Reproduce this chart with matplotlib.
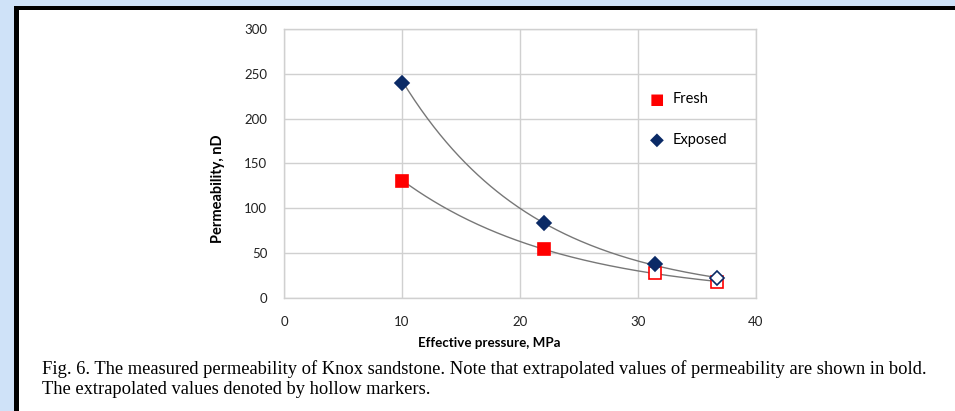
import numpy as np
import matplotlib
matplotlib.use("Agg")
import matplotlib.pyplot as plt
from matplotlib.patches import Rectangle

# Data
fresh_x = [10, 22, 31.4, 36.7]
fresh_y = [130, 55, 28, 18]
fresh_hollow = [False, False, True, True]
exposed_x = [10, 22, 31.4, 36.7]
exposed_y = [240, 84, 38, 22]
exposed_hollow = [False, False, False, True]
x_ticks = [0, 10, 20, 30, 40]
y_ticks = [0, 50, 100, 150, 200, 250, 300]

W, H = 955, 411
fig = plt.figure(figsize=(W/100, H/100), dpi=100)
fig.patch.set_facecolor("#cfe2f8")

# background axes holding the white panel with black top/left border
bg = fig.add_axes([0, 0, 1, 1], zorder=-10)
bg.set_xlim(0, W)
bg.set_ylim(H, 0)
bg.axis("off")
bg.add_patch(Rectangle((19, 10), W - 19, H - 10, facecolor="white", edgecolor="none"))
bg.add_patch(Rectangle((14, 6), 5, H - 6, facecolor="black", edgecolor="none"))
bg.add_patch(Rectangle((14, 6), W - 14, 4, facecolor="black", edgecolor="none"))

x0, x1 = 284, 756
y0, y1 = 29, 298
ax = fig.add_axes([x0/W, 1 - y1/H, (x1-x0)/W, (y1-y0)/H], zorder=1)
ax.set_facecolor("none")
ax.set_xlim(0, 40)
ax.set_ylim(0, 300)
ax.set_xticks(x_ticks)
ax.set_yticks(y_ticks)
ax.grid(True, color="#d0d0d0", linewidth=1)
ax.set_axisbelow(True)
for s in ax.spines.values():
    s.set_color("#d0d0d0")
    s.set_linewidth(1)
ax.tick_params(length=0, labelsize=9.5, colors="#222222")
ax.tick_params(axis="x", pad=13)
ax.tick_params(axis="y", pad=12)
for lab in ax.get_xticklabels() + ax.get_yticklabels():
    lab.set_family("Lato")

red = "#ff0000"
navy = "#0a2a66"

# exponential trend lines
for xs, ys in [(fresh_x, fresh_y), (exposed_x, exposed_y)]:
    b, a = np.polyfit(np.array(xs), np.log(ys), 1)
    xx = np.linspace(min(xs), max(xs), 200)
    ax.plot(xx, np.exp(a + b * xx), color="#777777", linewidth=1, zorder=2)

for x, y, h in zip(fresh_x, fresh_y, fresh_hollow):
    ax.plot(x, y, marker="s", markersize=8, linestyle="none",
            markerfacecolor="white" if h else red, markeredgecolor=red,
            markeredgewidth=1.2, zorder=3)
for x, y, h in zip(exposed_x, exposed_y, exposed_hollow):
    ax.plot(x, y, marker="D", markersize=7, linestyle="none",
            markerfacecolor="white" if h else navy, markeredgecolor=navy,
            markeredgewidth=1.2, zorder=4)

# legend
fig.text(657/W, 1 - 99/H, "\u25A0", color=red, fontsize=11, ha="center", va="center",
         family="DejaVu Sans")
fig.text(657/W, 1 - 140/H, "\u25C6", color=navy, fontsize=13, ha="center", va="center",
         family="DejaVu Sans")
fig.text(673/W, 1 - 99/H, "Fresh", fontsize=10.5, ha="left", va="center", family="Lato")
fig.text(673/W, 1 - 140/H, "Exposed", fontsize=10.5, ha="left", va="center", family="Lato")

fig.text(218/W, 1 - 189/H, "Permeability, nD", rotation=90, fontsize=10.5, fontweight="bold",
         ha="center", va="center", family="Lato")
fig.text(489/W, 1 - 343/H, "Effective pressure, MPa", fontsize=9.6, fontweight="bold",
         ha="center", va="center", family="Lato")

fig.text(42/W, 1 - 369/H,
         "Fig. 6. The measured permeability of Knox sandstone. Note that extrapolated values of permeability are shown in bold.",
         fontsize=13.3, ha="left", va="center", family="Liberation Serif")
fig.text(42/W, 1 - 389/H, "The extrapolated values denoted by hollow markers.",
         fontsize=13.3, ha="left", va="center", family="Liberation Serif")

fig.savefig("out.png", dpi=100, facecolor=fig.get_facecolor())
